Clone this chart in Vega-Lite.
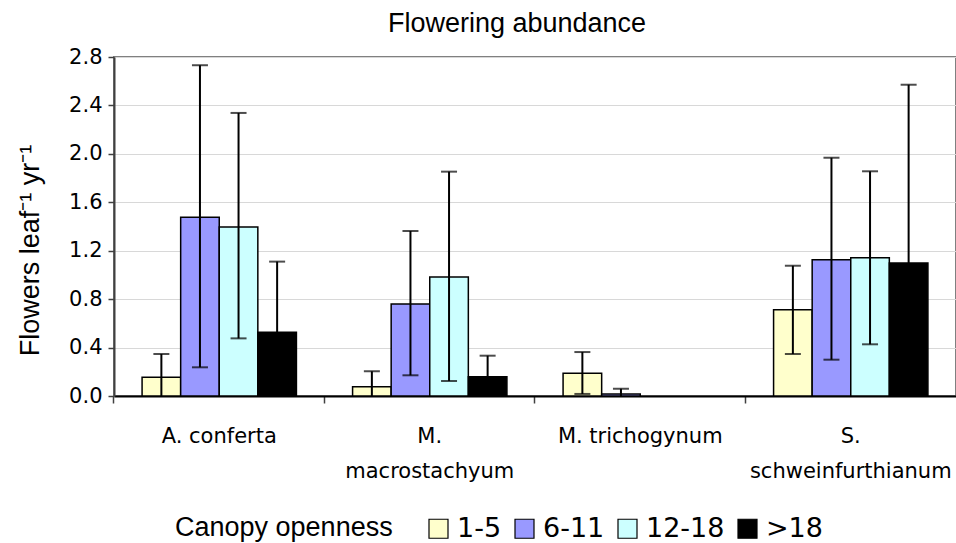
{
  "$schema": "https://vega.github.io/schema/vega-lite/v6.json",
  "width": 842,
  "height": 339,
  "autosize": {"type": "none"},
  "padding": {"left": 114, "top": 57, "right": 0, "bottom": 147},
  "background": "white",
  "config": {
    "font": "Liberation Sans",
    "view": {"stroke": "#808080", "strokeWidth": 2}
  },
  "title": {"text": "Flowering abundance", "fontSize": 27, "fontWeight": "normal", "font": "Liberation Sans", "color": "black", "offset": 8, "dx": -18},
  "data": {"values": [
    {"species": "A. conferta", "canopy": "1-5", "mean": 0.155, "lo": 0, "hi": 0.347},
    {"species": "A. conferta", "canopy": "6-11", "mean": 1.476, "lo": 0.237, "hi": 2.732},
    {"species": "A. conferta", "canopy": "12-18", "mean": 1.396, "lo": 0.476, "hi": 2.338},
    {"species": "A. conferta", "canopy": ">18", "mean": 0.526, "lo": 0, "hi": 1.11},
    {"species": "M. macrostachyum", "canopy": "1-5", "mean": 0.077, "lo": 0, "hi": 0.204},
    {"species": "M. macrostachyum", "canopy": "6-11", "mean": 0.76, "lo": 0.171, "hi": 1.363},
    {"species": "M. macrostachyum", "canopy": "12-18", "mean": 0.983, "lo": 0.124, "hi": 1.853},
    {"species": "M. macrostachyum", "canopy": ">18", "mean": 0.16, "lo": 0, "hi": 0.333},
    {"species": "M. trichogynum", "canopy": "1-5", "mean": 0.187, "lo": 0.017, "hi": 0.363},
    {"species": "M. trichogynum", "canopy": "6-11", "mean": 0.017, "lo": 0, "hi": 0.06},
    {"species": "S. schweinfurthianum", "canopy": "1-5", "mean": 0.713, "lo": 0.347, "hi": 1.076},
    {"species": "S. schweinfurthianum", "canopy": "6-11", "mean": 1.126, "lo": 0.30, "hi": 1.968},
    {"species": "S. schweinfurthianum", "canopy": "12-18", "mean": 1.142, "lo": 0.427, "hi": 1.856},
    {"species": "S. schweinfurthianum", "canopy": ">18", "mean": 1.099, "lo": 0, "hi": 2.571}
  ]},
  "encoding": {
    "x": {
      "field": "species", "type": "nominal",
      "sort": ["A. conferta", "M. macrostachyum", "M. trichogynum", "S. schweinfurthianum"],
      "scale": {"paddingInner": 0.2668, "paddingOuter": 0.1334},
      "axis": {
        "title": null, "labelAngle": 0, "labelFont": "DejaVu Sans", "labelFontSize": 21, "labelColor": "black", "labelLimit": 400,
        "bandPosition": -0.182, "tickSize": 7, "tickColor": "#404040", "tickWidth": 1.5,
        "domainColor": "black", "domainWidth": 2, "labelPadding": 22, "labelLineHeight": 35,
        "labelExpr": "datum.value == 'M. macrostachyum' ? ['M.', 'macrostachyum'] : datum.value == 'S. schweinfurthianum' ? ['S.', 'schweinfurthianum'] : datum.value"
      }
    },
    "xOffset": {"field": "canopy", "type": "nominal", "scale": {"domain": ["1-5", "6-11", "12-18", ">18"], "paddingInner": 0, "paddingOuter": 0}}
  },
  "layer": [
    {
      "mark": {"type": "bar", "stroke": "black", "strokeWidth": 1.5},
      "encoding": {
        "y": {
          "field": "mean", "type": "quantitative",
          "scale": {"domain": [0, 2.8], "nice": false},
          "axis": {
            "title": "Flowers leaf⁻¹ yr⁻¹", "titleFont": "Liberation Sans", "titleFontSize": 27, "titleFontWeight": "normal", "titleColor": "black", "titleLimit": 400,
            "titleX": -84, "titleY": 193, "titleAngle": -90, "titleAlign": "center", "titleBaseline": "middle",
            "values": [0, 0.4, 0.8, 1.2, 1.6, 2.0, 2.4, 2.8], "format": ".1f",
            "labelFont": "DejaVu Sans", "labelFontSize": 21, "labelColor": "black", "labelPadding": 6, "tickSize": 6, "tickColor": "#404040", "tickWidth": 1.5,
            "domainColor": "#404040", "domainWidth": 2, "grid": true, "gridColor": "#d8d8d8", "gridWidth": 1.2
          }
        },
        "fill": {
          "field": "canopy", "type": "nominal",
          "scale": {"domain": ["1-5", "6-11", "12-18", ">18"], "range": ["#FFFFCC", "#9999FF", "#CCFFFF", "#000000"]},
          "legend": {
            "title": "Canopy openness", "orient": "none", "direction": "horizontal", "titleOrient": "left",
            "legendX": 61, "legendY": 458, "titleFont": "Liberation Sans", "titleFontSize": 27, "titleFontWeight": "normal", "titleColor": "black", "titleLimit": 400,
            "labelFont": "DejaVu Sans", "labelFontSize": 27, "labelColor": "black", "labelLimit": 200, "symbolType": "square", "symbolSize": 361,
            "symbolStrokeColor": "black", "symbolStrokeWidth": 1.2, "titlePadding": 32, "columnPadding": 9, "labelOffset": 5
          }
        }
      }
    },
    {
      "mark": {"type": "rule", "color": "black", "strokeWidth": 2},
      "encoding": {"y": {"field": "lo", "type": "quantitative"}, "y2": {"field": "hi"}}
    },
    {
      "mark": {"type": "tick", "color": "black", "thickness": 2, "size": 16, "orient": "horizontal"},
      "encoding": {"y": {"field": "hi", "type": "quantitative"}}
    },
    {
      "transform": [{"filter": "datum.lo > 0"}],
      "mark": {"type": "tick", "color": "black", "thickness": 2, "size": 16, "orient": "horizontal"},
      "encoding": {"y": {"field": "lo", "type": "quantitative"}}
    }
  ]
}
